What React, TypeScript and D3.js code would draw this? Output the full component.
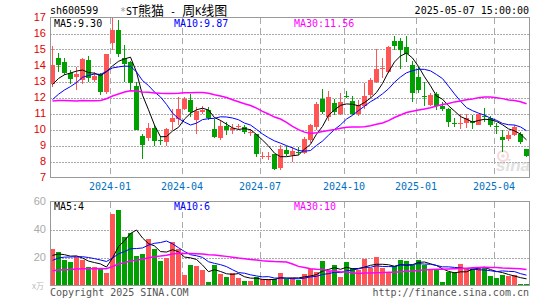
import React from 'react';
import * as d3 from 'd3';

// weekly candles, oldest first (index 0 = late Oct 2023, index 79 = week of 2025-05-06)
const opens = [
  12.87, 14.5, 14.23, 13.54, 13.3, 13.12, 14.33, 13.1, 13.5, 12.33,
  15.41, 16.2, 14.5, 14.2, 12.71, 9.58, 9.48, 10.08, 9.35, 9.22,
  10.46, 10.63, 11.3, 11.85, 10.58, 11.1, 11.2, 10.06, 9.48, 10.2,
  10.0, 10.15, 10.15, 9.83, 9.69, 8.33, 8.34, 8.44, 7.6, 8.75,
  8.4, 8.62, 8.56, 9.33, 10.17, 11.9, 10.79, 11.66, 10.98, 12.12,
  11.8, 11.0, 11.5, 12.14, 12.98, 13.78, 13.6, 15.52, 15.52, 15.17,
  14.02, 13.3, 12.08, 11.52, 12.19, 11.48, 11.27, 10.4, 10.38, 10.38,
  10.52, 10.31, 10.82, 10.69, 10.2, 9.56, 9.4, 9.65, 9.69, 8.77,
];
const highs = [
  15.23, 14.79, 14.5, 13.7, 13.9, 14.45, 14.62, 13.6, 13.55, 14.72,
  17.0, 16.83, 15.27, 14.27, 12.95, 9.72, 10.4, 10.3, 9.6, 10.1,
  11.27, 12.05, 12.05, 12.2, 11.4, 11.45, 11.4, 10.65, 10.6, 10.5,
  10.35, 10.37, 10.27, 10.05, 9.75, 8.6, 8.6, 8.5, 9.02, 9.0,
  8.92, 8.9, 9.54, 10.37, 11.69, 12.52, 12.4, 11.9, 12.31, 12.4,
  12.1, 11.83, 12.9, 13.2, 15.06, 14.45, 15.2, 15.85, 15.75, 15.87,
  14.27, 13.9, 13.0, 12.3, 12.35, 11.7, 11.35, 10.7, 11.0, 11.0,
  10.9, 11.0, 11.35, 10.85, 10.38, 9.98, 9.9, 10.3, 9.85, 8.78,
];
const lows = [
  12.67, 13.6, 13.4, 12.86, 12.5, 12.83, 12.95, 12.95, 12.14, 12.2,
  14.96, 14.55, 12.98, 12.5, 10.0, 8.15, 9.27, 9.0, 9.02, 9.0,
  10.0, 10.3, 11.2, 10.8, 9.75, 11.0, 10.6, 9.44, 9.35, 9.65,
  9.7, 9.95, 9.75, 9.6, 8.3, 8.15, 8.1, 7.46, 7.44, 8.35,
  7.98, 8.4, 8.5, 9.13, 9.96, 10.96, 10.52, 10.9, 10.9, 11.95,
  10.9, 10.85, 11.3, 11.95, 12.88, 13.2, 13.55, 14.96, 13.8, 14.2,
  11.75, 12.3, 11.5, 11.45, 11.2, 11.15, 10.17, 10.15, 10.05, 10.1,
  10.05, 10.27, 10.45, 10.15, 9.75, 8.6, 9.27, 9.6, 9.12, 8.28,
];
const closes = [
  14.06, 14.04, 13.56, 13.14, 13.45, 14.4, 13.25, 13.35, 12.37, 14.7,
  16.2, 14.69, 14.1, 12.92, 10.0, 9.02, 10.12, 9.3, 9.29, 10.06,
  10.75, 11.27, 11.9, 11.1, 11.14, 11.25, 10.7, 9.55, 10.2, 9.96,
  10.1, 10.2, 9.82, 9.87, 8.44, 8.37, 8.36, 7.56, 8.77, 8.44,
  8.67, 8.58, 9.4, 10.27, 11.62, 11.1, 12.04, 11.1, 11.69, 12.06,
  11.0, 11.56, 12.12, 13.08, 13.81, 13.82, 15.17, 15.23, 14.96, 14.69,
  12.3, 12.5, 12.02, 12.15, 11.5, 11.3, 10.44, 10.37, 10.43, 10.69,
  10.38, 10.94, 10.77, 10.27, 10.15, 9.35, 9.65, 10.17, 9.23, 8.35,
];
// weekly volume (万手)
const volumes = [
  26.2, 24.1, 18.5, 16.8, 20.2, 18.5, 13.2, 13.2, 12.0, 8.9,
  51.0, 53.8, 34.3, 37.7, 21.4, 22.6, 33.5, 26.2, 17.4, 19.8,
  30.9, 26.1, 7.4, 14.6, 13.9, 11.0, 2.4, 14.6, 8.2, 5.8,
  8.7, 5.3, 3.3, 3.1, 5.8, 4.3, 4.3, 4.3, 8.9, 4.5,
  5.3, 4.1, 8.2, 11.8, 9.6, 17.8, 10.1, 14.4, 6.0, 16.8,
  12.5, 11.3, 19.0, 12.5, 20.5, 12.5, 9.6, 13.7, 18.3, 17.8,
  14.4, 18.5, 14.9, 11.8, 11.8, 2.4, 9.6, 9.6, 15.4, 11.8,
  11.8, 13.2, 13.2, 6.7, 5.3, 7.6, 6.6, 7.6, 1.0, 1.0,
];
// estimated weeks before the visible window, only used to seed the moving averages
const priorCloses = [
  13.2, 13.5, 13.8, 13.9, 13.6, 13.4, 13.3,
  12.0, 11.5, 11.0, 10.8, 10.6, 10.5, 10.6,
  10.9, 10.6, 10.3, 10.2, 10.5, 10.65,
  10.7, 10.9, 11.0, 10.95, 11.1,
  12.14, 12.4, 12.6, 12.85,
];
const priorVolumes = [
  9, 12, 14, 11, 10, 13, 12, 10, 11,
  4, 3, 3.5, 3, 2.5, 3, 3.5, 3, 3.5, 3, 4,
  8, 12, 16, 18, 18.5,
  19, 21, 22, 19.3,
];

const monthLabels = ['2024-01', '2024-04', '2024-07', '2024-10', '2025-01', '2025-04'];
const monthIndex = [10, 22, 35, 49, 61, 74];
const priceTicks = [7, 8, 9, 10, 11, 12, 13, 14, 15, 16, 17];
const volumeTicks = [20, 40, 60];
const priceLegend = ['MA5:9.30', 'MA10:9.87', 'MA30:11.56'];
const volumeLegend = ['MA5:4', 'MA10:6', 'MA30:10'];
const maColors = ['#000000', '#0000ff', '#ff00ff'];
const maPeriods = [5, 10, 30];

const UP = '#ff5555';
const DOWN = '#00a000';
const MONO = '"DejaVu Sans Mono", "Liberation Mono", monospace';
const SANS = '"Liberation Sans", Arial, sans-serif';
const CJK = '"Noto Sans CJK SC", sans-serif';

function movingAverage(values: number[], prior: number[], n: number) {
  const all = prior.concat(values);
  return values.map((_, i) => {
    const end = prior.length + i + 1;
    return d3.mean(all.slice(end - n, end)) as number;
  });
}

const App: React.FC = () => {
  const width = 545;
  const height = 300;
  const left = 50;
  const right = 529.5;
  const priceTop = 17.5;
  const priceBottom = 177.5;
  const volTop = 201.5;
  const volBottom = 285.5;

  const x = d3.scaleLinear().domain([0, 80]).range([50, 530]);
  const yP = d3.scaleLinear().domain([7, 17]).range([priceBottom, priceTop]);
  const yV = d3.scaleLinear().domain([0, 60]).range([volBottom, volTop]);
  const cx = (i: number) => x(i) + 2.5;

  const priceLine = d3.line<number>().x((_, i) => cx(i)).y(d => yP(d));
  const volLine = d3.line<number>().x((_, i) => cx(i)).y(d => yV(d));

  const priceMA = maPeriods.map(n => movingAverage(closes, priorCloses, n));
  const volMA = maPeriods.map(n => movingAverage(volumes, priorVolumes, n));

  const legendX = [54, 174, 294];

  return (
    <div style={{ position: 'absolute', left: 0, top: 0 }}>
      <svg width={width} height={height} style={{ display: 'block', background: '#fff' }}>
        {/* header */}
        <text x={50} y={14} fontFamily={MONO} fontSize={10} fill="#000">sh600599</text>
        <text x={120} y={14.5} fontFamily={MONO} fontSize={10} fill="#000" xmlSpace="preserve">
          <tspan fill="#999">*</tspan>
          <tspan>ST</tspan>
          <tspan fontFamily={CJK} fontSize={13}>熊猫</tspan>
          <tspan>{' - '}</tspan>
          <tspan fontFamily={CJK} fontSize={13}>周</tspan>
          <tspan>K</tspan>
          <tspan fontFamily={CJK} fontSize={13}>线图</tspan>
        </text>
        <text x={529} y={14} fontFamily={MONO} fontSize={10} textAnchor="end" fill="#000">2025-05-07 15:00:00</text>

        {/* grid */}
        <g shapeRendering="crispEdges">
          {priceTicks.slice(1, -1).map(t => (
            <line key={t} x1={left} x2={right} y1={Math.round(yP(t)) + 0.5} y2={Math.round(yP(t)) + 0.5}
              stroke="#aaa" strokeDasharray="1.5,1.5" />
          ))}
          {volumeTicks.slice(0, -1).map(t => (
            <line key={t} x1={left} x2={right} y1={Math.round(yV(t)) + 0.5} y2={Math.round(yV(t)) + 0.5}
              stroke="#aaa" strokeDasharray="1.5,1.5" />
          ))}
          {monthIndex.map(i => (
            <g key={i}>
              <line x1={x(i) + 0.5} x2={x(i) + 0.5} y1={priceTop} y2={priceBottom} stroke="#aaa" strokeDasharray="6,4" />
              <line x1={x(i) + 0.5} x2={x(i) + 0.5} y1={volTop} y2={volBottom} stroke="#aaa" strokeDasharray="6,4" />
            </g>
          ))}
        </g>

        {/* watermark */}
        <g opacity={0.55}>
          <circle cx={503} cy={156} r={5} fill="none" stroke="#f2b8b8" strokeWidth={2} />
          <circle cx={503} cy={156} r={1.8} fill="#f2b8b8" />
          <text x={513} y={171} textAnchor="middle" fontFamily={SANS} fontStyle="italic" fontWeight="bold"
            fontSize={17} fill="#c8c8c8">sina</text>
        </g>

        {/* candles */}
        <g shapeRendering="crispEdges">
          {closes.map((c, i) => {
            const o = opens[i];
            const col = c >= o ? UP : DOWN;
            const top = yP(Math.max(o, c));
            const h = Math.max(1, Math.abs(yP(o) - yP(c)));
            return (
              <g key={i}>
                <line x1={x(i) + 2.5} x2={x(i) + 2.5} y1={yP(highs[i])} y2={yP(lows[i])} stroke={col} />
                <rect x={x(i)} y={top} width={5} height={h} fill={col} />
              </g>
            );
          })}
        </g>

        {/* price moving averages */}
        {priceMA.map((s, k) => (
          <path key={k} d={priceLine(s) || ''} fill="none" stroke={maColors[k]} strokeWidth={k === 2 ? 1.5 : 1} />
        ))}

        {/* volume bars */}
        <g shapeRendering="crispEdges">
          {volumes.map((v, i) => (
            <rect key={i} x={x(i)} y={yV(v)} width={5} height={volBottom - yV(v)}
              fill={closes[i] >= opens[i] ? UP : DOWN} />
          ))}
        </g>
        {volMA.map((s, k) => (
          <path key={k} d={volLine(s) || ''} fill="none" stroke={maColors[k]} strokeWidth={k === 2 ? 1.5 : 1} />
        ))}

        {/* frames */}
        <g shapeRendering="crispEdges" fill="none" stroke="#999">
          <rect x={left} y={priceTop} width={right - left} height={priceBottom - priceTop} />
          <rect x={left} y={volTop} width={right - left} height={volBottom - volTop} />
        </g>

        {/* legends */}
        {priceLegend.map((t, k) => (
          <text key={t} x={legendX[k]} y={27} fontFamily={MONO} fontSize={10} fill={maColors[k]}>{t}</text>
        ))}
        {volumeLegend.map((t, k) => (
          <text key={t} x={legendX[k]} y={210} fontFamily={MONO} fontSize={10} fill={maColors[k]}>{t}</text>
        ))}

        {/* price axis labels */}
        {priceTicks.map(t => (
          <text key={t} x={46} y={yP(t)} dy="0.36em" textAnchor="end" fontFamily={SANS} fontSize={11} fill="#e00000">{t}</text>
        ))}
        {/* volume axis labels */}
        {volumeTicks.map(t => (
          <text key={t} x={46} y={yV(t)} dy="0.36em" textAnchor="end" fontFamily={SANS} fontSize={11} fill="#aaa">{t}</text>
        ))}
        <text x={44} y={289} textAnchor="end" fontFamily={CJK} fontSize={8} fill="#bbb">x万</text>

        {/* month labels */}
        {monthIndex.map((i, k) => (
          <text key={k} x={x(i)} y={190} textAnchor="middle" fontFamily={MONO} fontSize={10} fill="#0070c0">{monthLabels[k]}</text>
        ))}

        {/* footer */}
        <text x={50} y={296} fontFamily={MONO} fontSize={10} fill="#555">Copyright 2025 SINA.COM</text>
        <text x={529} y={296} textAnchor="end" fontFamily={MONO} fontSize={10} fill="#555">http://finance.sina.com.cn</text>
      </svg>
    </div>
  );
};

export default App;
